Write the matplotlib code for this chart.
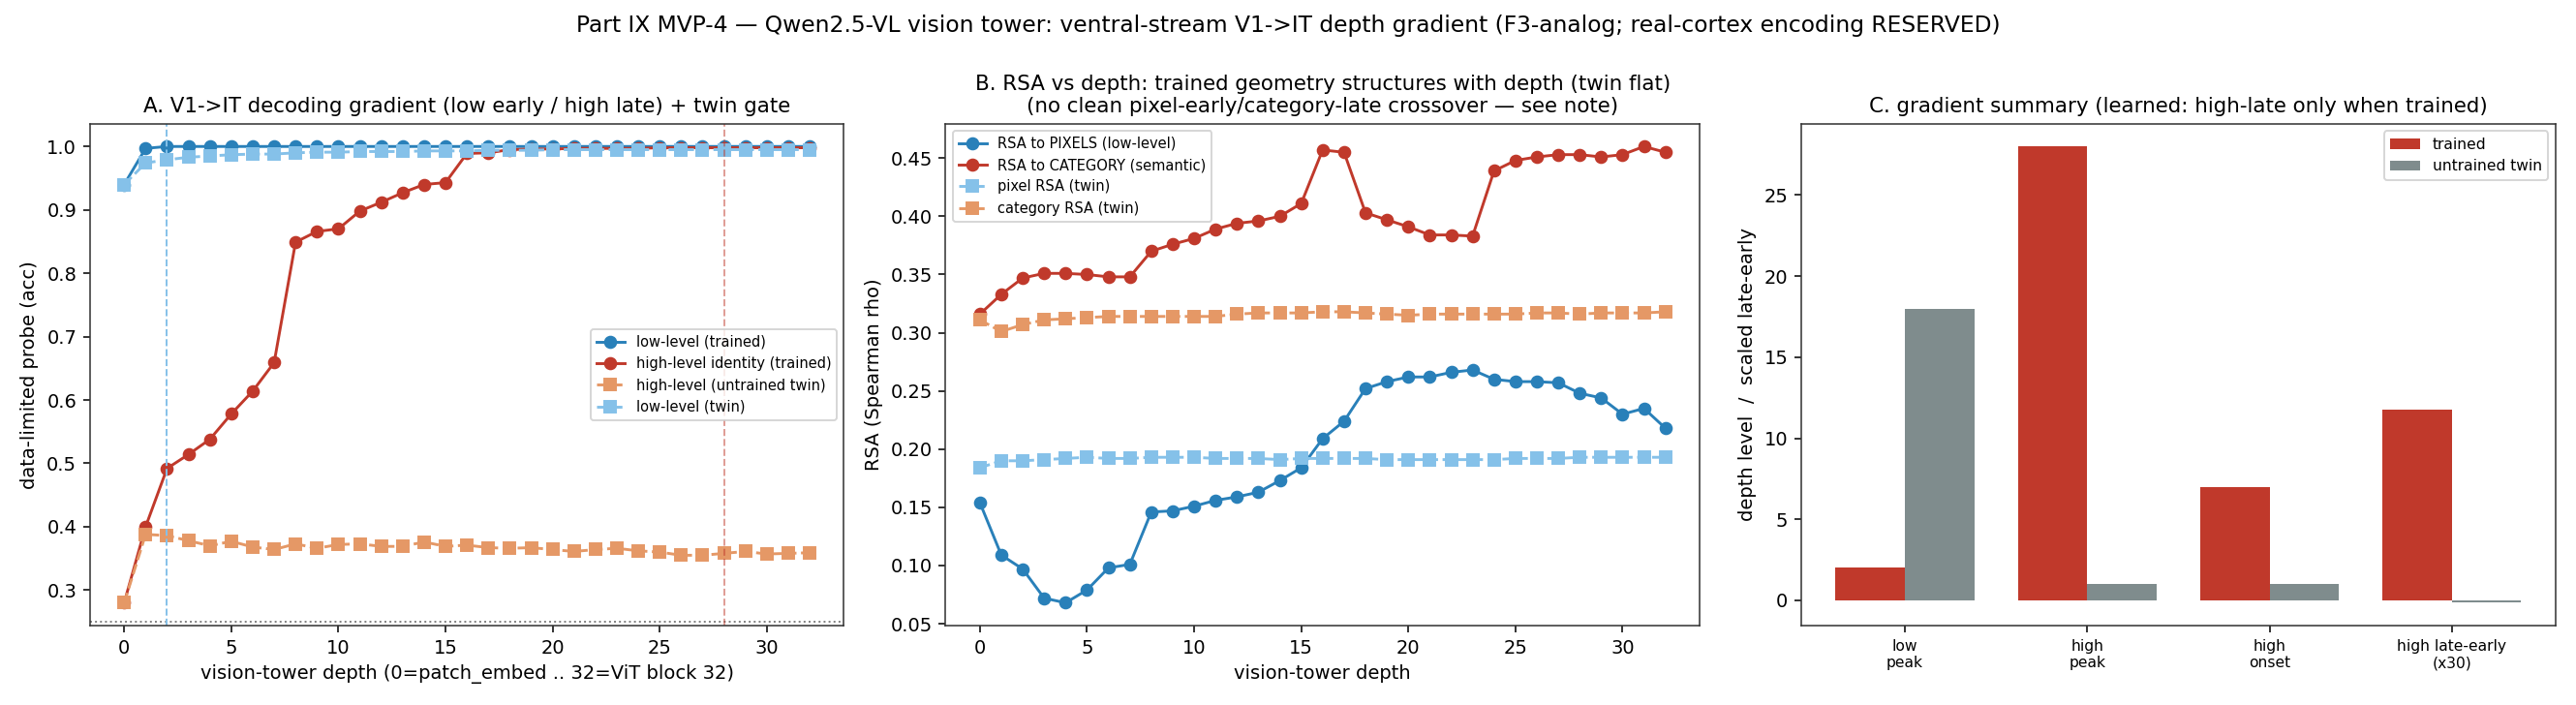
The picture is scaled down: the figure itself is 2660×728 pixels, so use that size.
import numpy as np
import matplotlib
matplotlib.use('Agg')
import matplotlib.pyplot as plt

# panel A: decoding probe accuracy per vision-tower depth (0..32)
depth = np.arange(33)
low_trained = [0.94, 0.997] + [1.0] * 31
high_trained = [0.28, 0.400, 0.492, 0.514, 0.538, 0.578, 0.614, 0.659, 0.849, 0.866,
                0.870, 0.898, 0.912, 0.927, 0.940, 0.943, 0.989, 0.990, 0.995, 0.996,
                0.996, 0.997, 0.997, 0.997, 0.997, 0.998, 0.998, 0.998, 0.998, 0.998,
                0.998, 0.998, 0.998]
high_twin = [0.28, 0.388, 0.386, 0.378, 0.370, 0.377, 0.368, 0.364, 0.373, 0.366,
             0.372, 0.373, 0.369, 0.369, 0.376, 0.369, 0.371, 0.367, 0.366, 0.367,
             0.364, 0.361, 0.364, 0.366, 0.362, 0.360, 0.355, 0.355, 0.358, 0.361,
             0.357, 0.358, 0.359]
low_twin = [0.94, 0.974, 0.979, 0.983, 0.985, 0.987, 0.988, 0.988, 0.990, 0.991,
            0.991, 0.992, 0.992, 0.992, 0.993, 0.993, 0.993, 0.994, 0.994, 0.994,
            0.995, 0.995, 0.995, 0.995, 0.995, 0.995, 0.995, 0.995, 0.995, 0.995,
            0.995, 0.995, 0.995]
chance = 0.25
low_peak_line = 2
high_peak_line = 28

# panel B: RSA vs depth
rsa_pix = [0.154, 0.109, 0.097, 0.072, 0.068, 0.079, 0.098, 0.101, 0.146, 0.147,
           0.151, 0.156, 0.159, 0.163, 0.173, 0.184, 0.209, 0.224, 0.252, 0.258,
           0.262, 0.262, 0.266, 0.268, 0.260, 0.258, 0.258, 0.257, 0.248, 0.244,
           0.230, 0.235, 0.218]
rsa_cat = [0.316, 0.333, 0.347, 0.351, 0.351, 0.350, 0.348, 0.348, 0.370, 0.376,
           0.381, 0.389, 0.394, 0.396, 0.400, 0.411, 0.457, 0.455, 0.403, 0.397,
           0.391, 0.384, 0.384, 0.383, 0.439, 0.448, 0.451, 0.453, 0.453, 0.451,
           0.453, 0.460, 0.455]
rsa_pix_twin = [0.184, 0.190, 0.190, 0.191, 0.192, 0.193, 0.192, 0.192, 0.193, 0.193,
                0.193, 0.192, 0.192, 0.192, 0.191, 0.192, 0.192, 0.192, 0.192, 0.191,
                0.191, 0.191, 0.191, 0.191, 0.191, 0.192, 0.192, 0.192, 0.193, 0.193,
                0.193, 0.193, 0.193]
rsa_cat_twin = [0.311, 0.301, 0.307, 0.311, 0.312, 0.313, 0.314, 0.314, 0.314, 0.314,
                0.314, 0.314, 0.316, 0.317, 0.317, 0.317, 0.318, 0.318, 0.317, 0.316,
                0.315, 0.316, 0.316, 0.316, 0.316, 0.316, 0.317, 0.317, 0.316, 0.317,
                0.317, 0.317, 0.318]

# panel C: gradient summary
summary_labels = ['low\npeak', 'high\npeak', 'high\nonset', 'high late-early\n(x30)']
summary_trained = [2, 28, 7, 11.76]
summary_twin = [18, 1, 1, -0.15]

BLUE = '#2980b9'
RED = '#c0392b'
ORANGE = '#e59866'
LIGHTBLUE = '#85c1e9'
GRAY = '#7f8c8d'

plt.rcParams['axes.edgecolor'] = '#333333'

fig, axes = plt.subplots(1, 3, figsize=(19, 5.2), dpi=140)
fig.subplots_adjust(left=0.0349, right=0.992, bottom=0.1126, top=0.8246, wspace=0.1348)

# A
ax = axes[0]
ax.plot(depth, low_trained, 'o-', color=BLUE, ms=6, label='low-level (trained)')
ax.plot(depth, high_trained, 'o-', color=RED, ms=6, label='high-level identity (trained)')
ax.plot(depth, high_twin, 's--', color=ORANGE, ms=6, label='high-level (untrained twin)')
ax.plot(depth, low_twin, 's--', color=LIGHTBLUE, ms=6, label='low-level (twin)')
ax.axhline(chance, color='gray', ls=':', lw=1)
ax.axvline(low_peak_line, color=LIGHTBLUE, ls='--', lw=1)
ax.axvline(high_peak_line, color=RED, ls='--', lw=1, alpha=0.5)
ax.set_ylim(0.244, 1.036)
ax.set_xlabel('vision-tower depth (0=patch_embed .. 32=ViT block 32)')
ax.set_ylabel('data-limited probe (acc)')
ax.set_title('A. V1->IT decoding gradient (low early / high late) + twin gate', fontsize=11)
ax.legend(loc='center right', fontsize=7.5)

# B
ax = axes[1]
ax.plot(depth, rsa_pix, 'o-', color=BLUE, ms=6, label='RSA to PIXELS (low-level)')
ax.plot(depth, rsa_cat, 'o-', color=RED, ms=6, label='RSA to CATEGORY (semantic)')
ax.plot(depth, rsa_pix_twin, 's--', color=LIGHTBLUE, ms=6, label='pixel RSA (twin)')
ax.plot(depth, rsa_cat_twin, 's--', color=ORANGE, ms=6, label='category RSA (twin)')
ax.set_xlabel('vision-tower depth')
ax.set_ylabel('RSA (Spearman rho)')
ax.set_title('B. RSA vs depth: trained geometry structures with depth (twin flat)\n'
             '(no clean pixel-early/category-late crossover \u2014 see note)', fontsize=11)
ax.legend(loc='upper left', fontsize=7.5)

# C
ax = axes[2]
xs = np.arange(len(summary_labels))
w = 0.38
ax.bar(xs - w / 2, summary_trained, w, color=RED, label='trained')
ax.bar(xs + w / 2, summary_twin, w, color=GRAY, label='untrained twin')
ax.set_xticks(xs)
ax.set_xticklabels(summary_labels, fontsize=8)
ax.set_ylabel('depth level  /  scaled late-early')
ax.set_title('C. gradient summary (learned: high-late only when trained)', fontsize=11)
ax.legend(loc='upper right', fontsize=8)

fig.suptitle('Part IX MVP-4 \u2014 Qwen2.5-VL vision tower: ventral-stream V1->IT depth gradient '
             '(F3-analog; real-cortex encoding RESERVED)', fontsize=12, y=0.98)

fig.savefig('out.png', dpi=140)
